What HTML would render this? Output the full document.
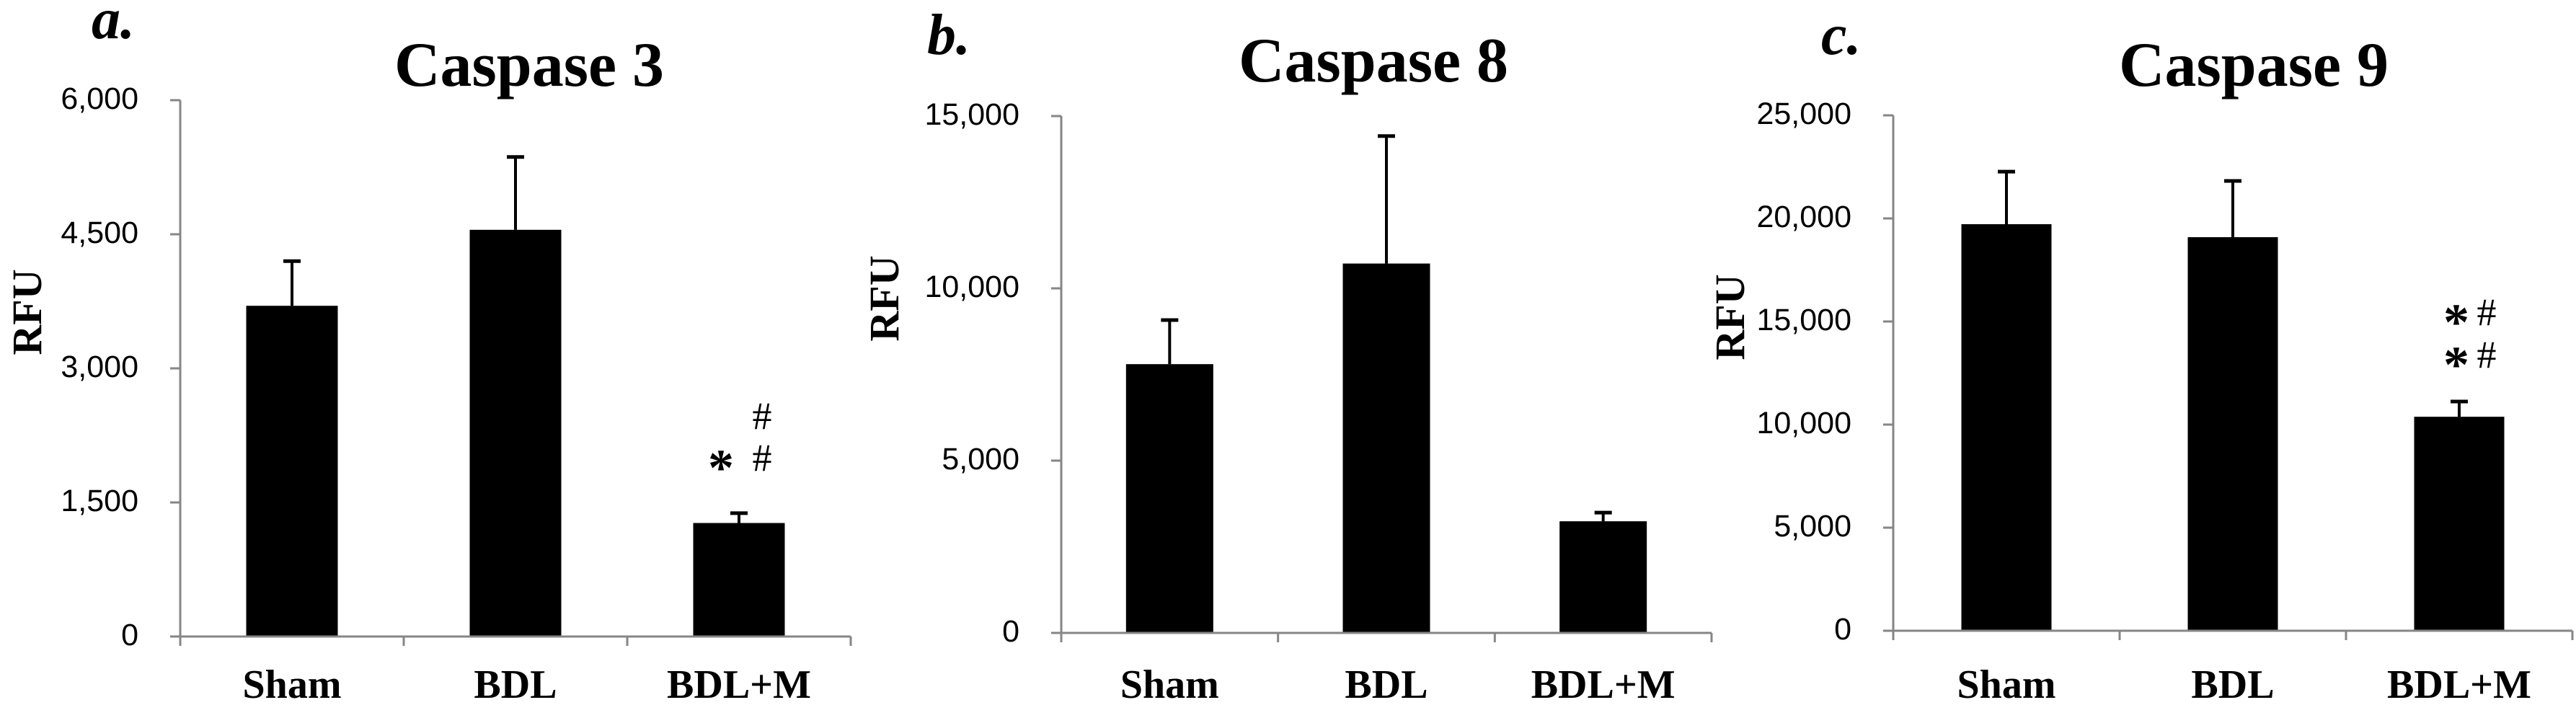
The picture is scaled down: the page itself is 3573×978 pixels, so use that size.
<!DOCTYPE html>
<html><head><meta charset="utf-8"><style>
html,body{margin:0;padding:0;background:#fff;}
svg{display:block;}
.tick{font-family:"Liberation Sans",sans-serif;font-size:43px;fill:#000;}
.cat{font-family:"Liberation Serif",serif;font-weight:bold;font-size:56px;}
.title{font-family:"Liberation Serif",serif;font-weight:bold;font-size:88px;}
.lab{font-family:"Liberation Serif",serif;font-weight:bold;font-style:italic;font-size:80px;}
.rfu{font-family:"Liberation Serif",serif;font-weight:bold;font-size:58px;}
.mk{font-family:"Liberation Serif",serif;font-size:54px;}
.star{font-family:"Liberation Serif",serif;font-weight:bold;font-size:72px;}
</style></head><body>
<svg id="fig" width="3573" height="978" xmlns="http://www.w3.org/2000/svg"></svg>
<script>
const categories = ["Sham","BDL","BDL+M"];
const casp3Values = [3700, 4550, 1270];
const casp3Errors = [500, 815, 110];
const casp8Values = [7800, 10720, 3240];
const casp8Errors = [1280, 3700, 250];
const casp9Values = [19720, 19090, 10380];
const casp9Errors = [2550, 2730, 740];
const casp3Ticks = [0,1500,3000,4500,6000];
const casp8Ticks = [0,5000,10000,15000];
const casp9Ticks = [0,5000,10000,15000,20000,25000];
const casp3Marks = [["#",0,0],["*",-1,1],["#",0,1]];
const casp9Marks = [["*",-1,0],["#",0,0],["*",-1,1],["#",0,1]];

const panels = [
 {id:"caspase-3",title:"Caspase 3",label:"a.",vals:casp3Values,errs:casp3Errors,ticks:casp3Ticks,max:6000,
  x0:250,x1:1180,yTop:139,yBot:883,titleX:734,titleY:119,labX:127,labY:53,rfuX:38,rfuY:433,bw:127,
  marks:casp3Marks,markY:[577,635],markX:[1000,1057]},
 {id:"caspase-8",title:"Caspase 8",label:"b.",vals:casp8Values,errs:casp8Errors,ticks:casp8Ticks,max:15000,
  x0:1472,x1:2374,yTop:161,yBot:878,titleX:1905,titleY:113,labX:1286,labY:75,rfuX:1227,rfuY:414,bw:121,
  marks:[],markY:[],markX:[]},
 {id:"caspase-9",title:"Caspase 9",label:"c.",vals:casp9Values,errs:casp9Errors,ticks:casp9Ticks,max:25000,
  x0:2626,x1:3568,yTop:160,yBot:875,titleX:3126,titleY:119,labX:2526,labY:75,rfuX:2400,rfuY:440,bw:125,
  marks:casp9Marks,markY:[433,492],markX:[3407,3449]}
];
const svg=document.getElementById('fig');
const NS="http://www.w3.org/2000/svg";
function mk(tag,attrs,parent){const e=document.createElementNS(NS,tag);for(const k in attrs)e.setAttribute(k,attrs[k]);(parent||svg).appendChild(e);return e;}
function fmt(v){return v.toLocaleString('en-US');}
panels.forEach(p=>{
  const g=mk('g',{});
  
  
  const y=v=>p.yBot-(v/p.max)*(p.yBot-p.yTop);
  const band=(p.x1-p.x0)/categories.length;
  const cx=i=>p.x0+band*(i+0.5);
  let t=mk('text',{x:p.labX,y:p.labY,class:'lab'},g);t.textContent=p.label;
  
  
  t=mk('text',{x:p.titleX,y:p.titleY,class:'title','text-anchor':'middle'},g);t.textContent=p.title;
  
  
  t=mk('text',{x:0,y:0,class:'rfu','text-anchor':'middle',transform:`translate(${p.rfuX+19},${p.rfuY}) rotate(-90)`},g);t.textContent="RFU";
  
  
  p.vals.forEach((v,i)=>{
    const e=p.errs[i];
    const l=mk('line',{x1:cx(i),x2:cx(i),y1:y(v),y2:y(v+e),stroke:'#000','stroke-width':4},g);
    
    
    const c=mk('line',{x1:cx(i)-12,x2:cx(i)+12,y1:y(v+e),y2:y(v+e),stroke:'#000','stroke-width':5},g);
    
    
    const r=mk('rect',{x:cx(i)-p.bw/2,y:y(v),width:p.bw,height:p.yBot-y(v),fill:'#000'},g);
    
    
    const ct=mk('text',{x:cx(i),y:968,class:'cat','text-anchor':'middle'},g);ct.textContent=categories[i];
    
    
  });
  const ya=mk('line',{x1:p.x0,x2:p.x0,y1:p.yTop,y2:p.yBot,stroke:'#868686','stroke-width':3},g);
  
  
  const xa=mk('line',{x1:p.x0-14,x2:p.x1,y1:p.yBot,y2:p.yBot,stroke:'#868686','stroke-width':3},g);
  
  
  for(let i=0;i<=categories.length;i++){
    const xt=p.x0+band*i;
    const tk=mk('line',{x1:xt,x2:xt,y1:p.yBot,y2:p.yBot+13,stroke:'#868686','stroke-width':3},g);
    
    
  }
  p.ticks.forEach(v=>{
    const tk=mk('line',{x1:p.x0-14,x2:p.x0,y1:y(v),y2:y(v),stroke:'#868686','stroke-width':3},g);
    
    
    const tl=mk('text',{x:p.x0-58,y:y(v)+12,class:'tick','text-anchor':'end'},g);tl.textContent=fmt(v);
    
    
  });
  p.marks.forEach(m=>{
    const isStar=m[0]==='*';
    const s=mk('text',{x:p.markX[m[1]+1],y:p.markY[m[2]]+(isStar?38:18),class:isStar?'star':'mk','text-anchor':'middle'},g);
    s.textContent=m[0];
    
    
  });
});
</script>
</body></html>
